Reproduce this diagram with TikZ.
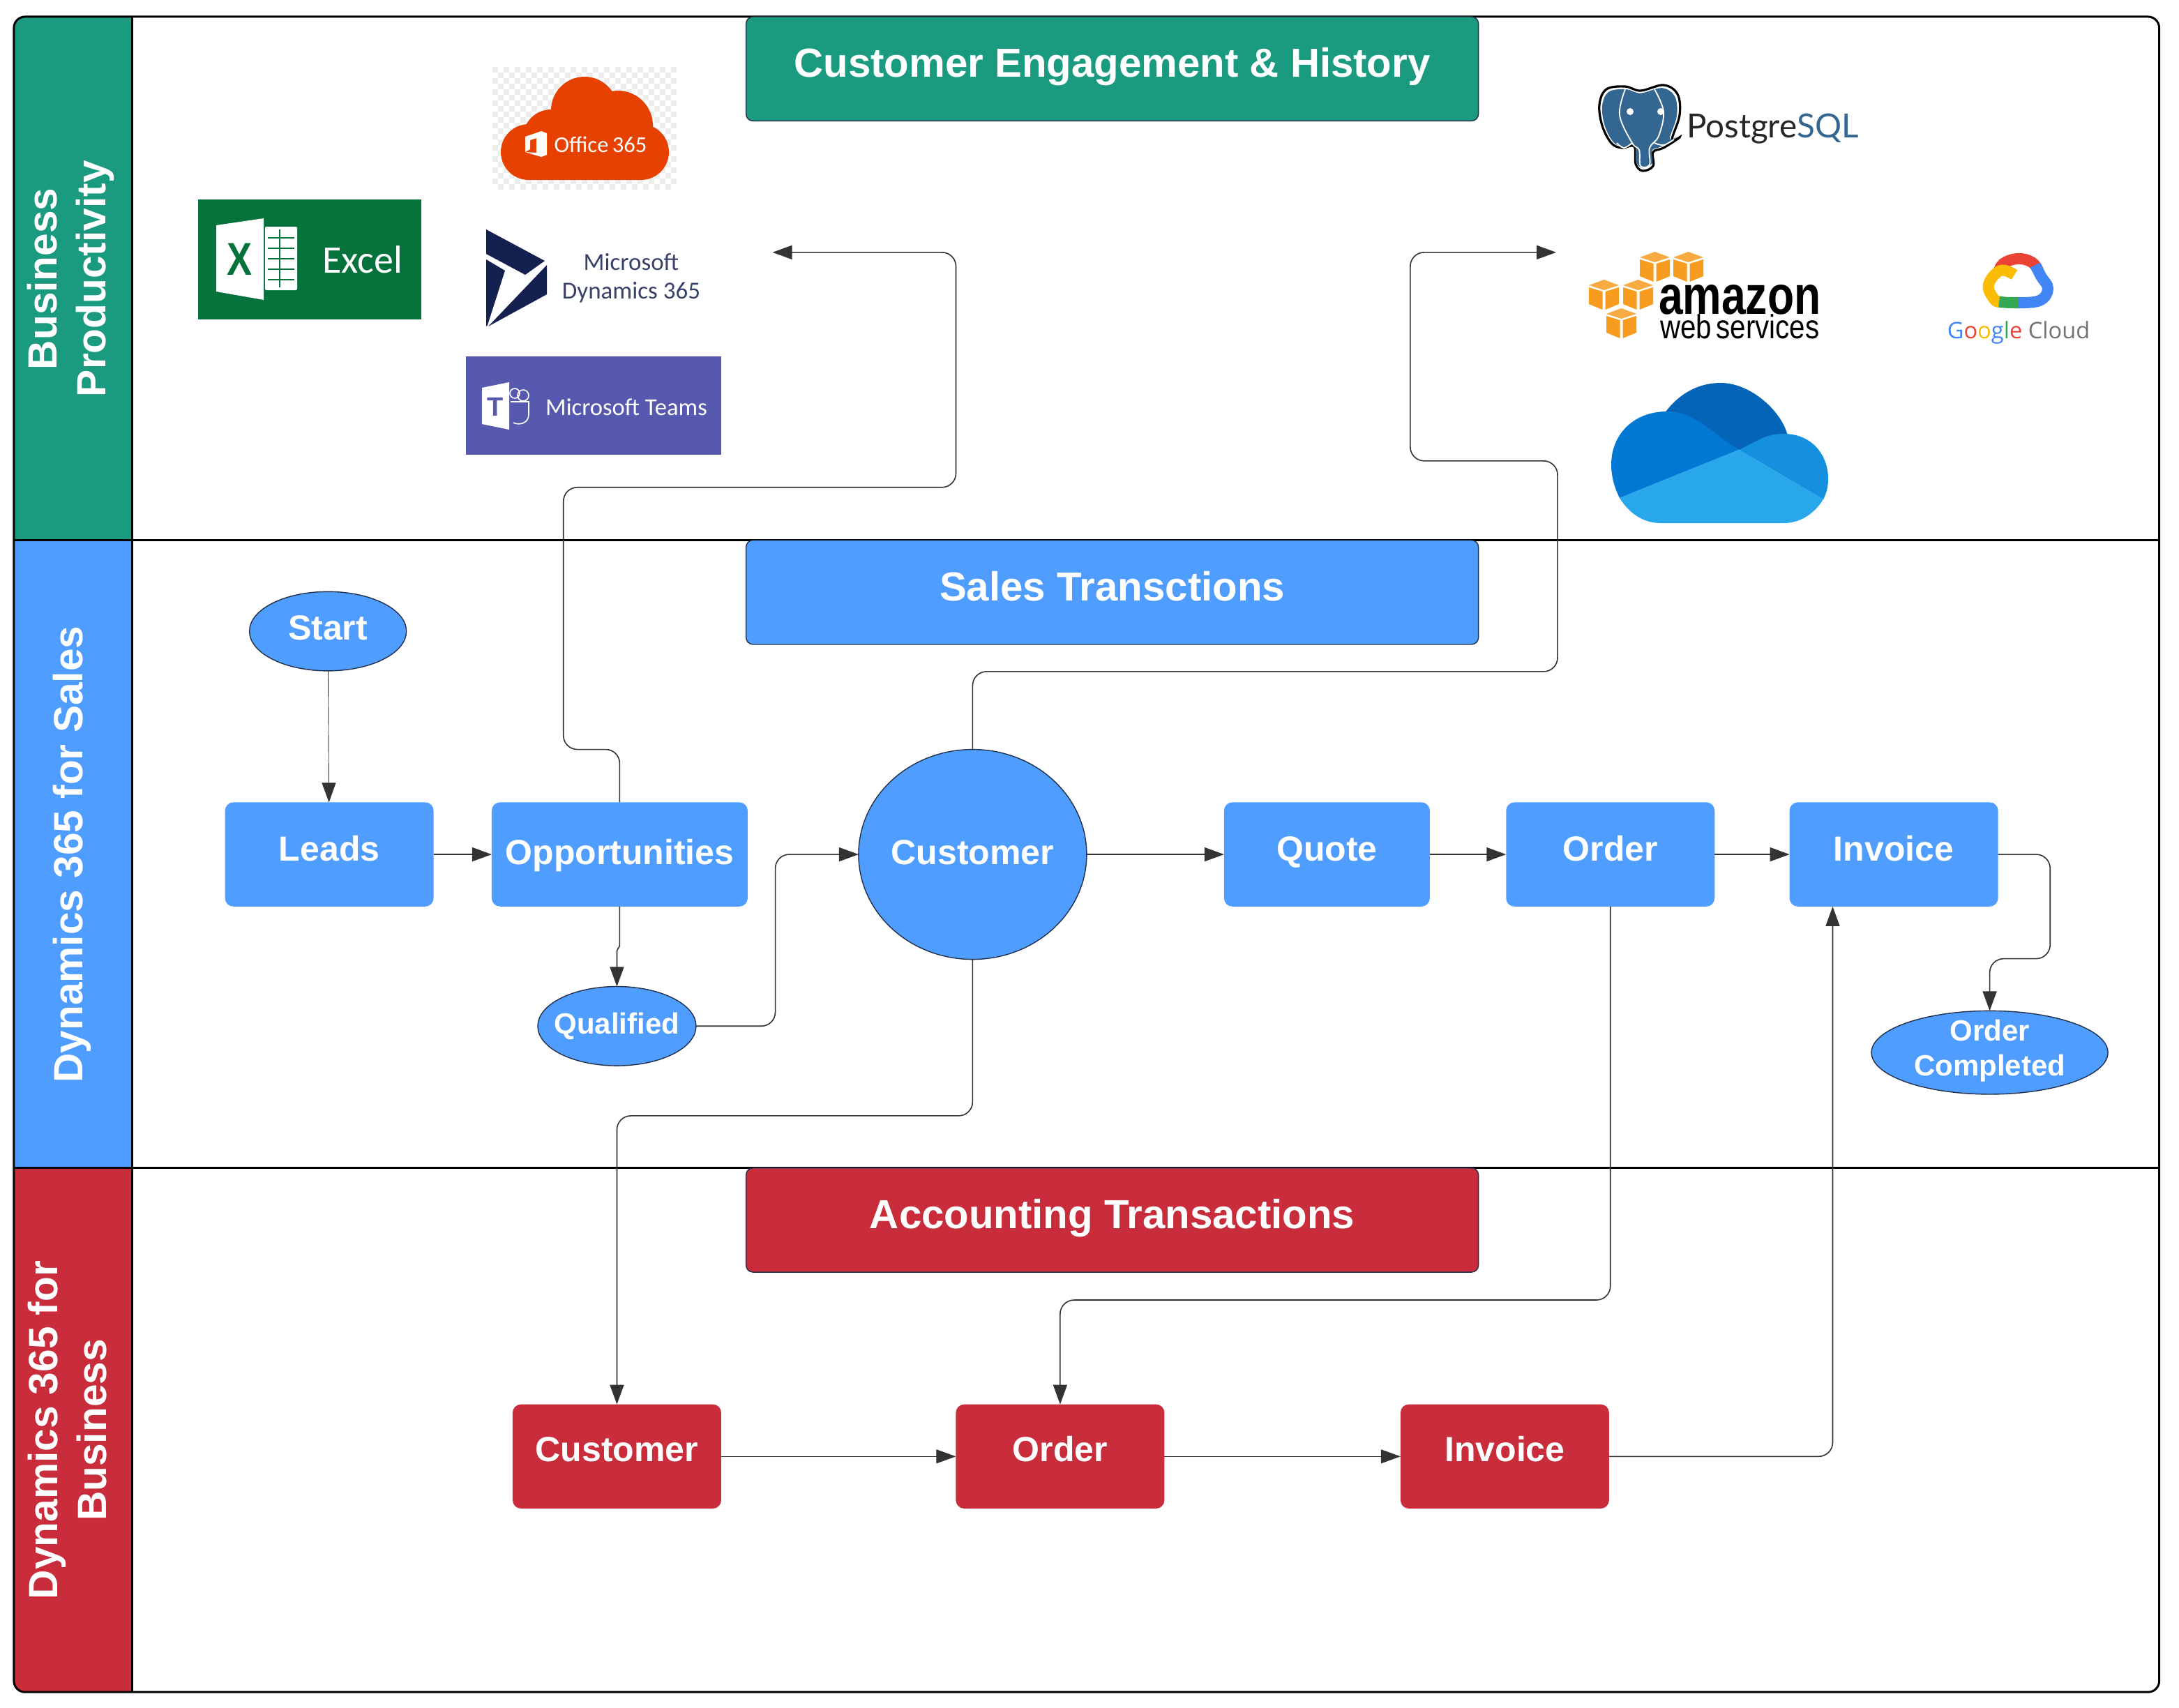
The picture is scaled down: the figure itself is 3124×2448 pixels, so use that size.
\documentclass[tikz,border=0pt]{standalone}
\usepackage{fontspec}
\usepackage{graphicx}
\setmainfont{Liberation Sans}
\newfontfamily\logofont{Carlito}
\newfontfamily\latofont{Lato}
\newfontfamily\gfont{Open Sans}
\usetikzlibrary{arrows.meta,shapes.geometric}
\definecolor{hgreen}{HTML}{1A9A7F}
\definecolor{hblue}{HTML}{4F9DFF}
\definecolor{hred}{HTML}{C92C3A}
\definecolor{linec}{HTML}{333333}
\definecolor{edgec}{HTML}{22304A}
\definecolor{xlgreen}{HTML}{04733B}
\definecolor{teamsc}{HTML}{5659AE}
\definecolor{dynnavy}{HTML}{14204F}
\definecolor{o365}{HTML}{E64100}
\definecolor{awsor}{HTML}{F79C1E}
\definecolor{pgblue}{HTML}{336791}
\definecolor{gblue}{HTML}{4285F4}
\definecolor{gred}{HTML}{EA4335}
\definecolor{gyel}{HTML}{FBBC05}
\definecolor{ggreen}{HTML}{34A853}
\definecolor{odtop}{HTML}{0364B8}
\definecolor{odleft}{HTML}{0078D4}
\definecolor{odright}{HTML}{1490DF}
\definecolor{odbottom}{HTML}{28A8EA}
\newcommand\awscube[2]{%
  \fill[awsor!85!white] (#1+21.5,#2) -- (#1+43,#2+8) -- (#1+21.5,#2+15) -- (#1,#2+8) -- cycle;
  \fill[awsor] (#1,#2+11) -- (#1+19.5,#2+17) -- (#1+19.5,#2+43) -- (#1,#2+35) -- cycle;
  \fill[awsor] (#1+43,#2+11) -- (#1+23.5,#2+17) -- (#1+23.5,#2+43) -- (#1+43,#2+35) -- cycle;}
\newcommand\elephantpath{plot[smooth cycle,tension=.6] coordinates {(2293,150) (2303,128) (2330,124) (2352,130) (2385,122) (2405,135) (2408,165) (2397,200) (2408,197) (2385,212) (2370,218) (2370,238) (2355,245) (2345,235) (2343,210) (2325,212) (2310,205) (2297,180)}}
\tikzset{
  x=0.5pt,y=-0.5pt,
  flowcoords/.style={x=0.498pt,y=-0.4984pt},
  boxbase/.style={rectangle,inner sep=0pt,outer sep=0pt,text=white,font=\bfseries\fontsize{25}{30}\selectfont,text height=18pt,text depth=9pt,align=center},
  bluebox/.style={boxbase,fill=hblue,rounded corners=6pt,minimum width=149.5pt,minimum height=74.7pt},
  redbox/.style={boxbase,fill=hred,rounded corners=6pt,minimum width=149.5pt,minimum height=74.7pt,text depth=11pt},
  oval/.style={ellipse,inner sep=-9pt,outer sep=0pt,fill=hblue,draw=edgec,line width=0.7pt,text=white,align=center,font=\bfseries\fontsize{25}{25}\selectfont},
  titlebox/.style={rectangle,inner sep=0pt,outer sep=0pt,draw=edgec,line width=0.7pt,rounded corners=5pt,minimum width=525pt,minimum height=74.7pt,text=white,font=\bfseries\fontsize{29.1}{34}\selectfont,text height=21pt,text depth=9pt},
  lanelabel/.style={rotate=90,inner sep=0pt,text=white,align=center,font=\bfseries\fontsize{29.3}{35}\selectfont},
  conn/.style={draw=linec,line width=0.8pt,rounded corners=10pt,-{Triangle[length=14pt,width=10pt]}},
  thinconn/.style={draw=linec,line width=0.45pt,-{Triangle[length=14pt,width=10pt]}},
  logotext/.style={inner sep=0pt,outer sep=0pt,font=\logofont},
}
\begin{document}
\begin{tikzpicture}
\useasboundingbox (0,0) rectangle (3124,2448);
\fill[white] (0,0) rectangle (3124,2448);
\begin{scope}[flowcoords]
% lanes
\begin{scope}
\clip[rounded corners=8pt] (20,24) rectangle (3108,2434);
\fill[hgreen] (20,24) rectangle (190,777);
\fill[hblue] (20,777) rectangle (190,1680);
\fill[hred] (20,1680) rectangle (190,2434);
\end{scope}
\draw[black,line width=1.5pt,rounded corners=8pt] (20,24) rectangle (3108,2434);
\draw[black,line width=1.5pt] (20,777) -- (3108,777) (20,1680) -- (3108,1680) (190,24) -- (190,2434);
\node[lanelabel] (lane1) at (102,401) {Business\\Productivity};
\node[lanelabel] (lane2) at (104,1229) {Dynamics 365 for Sales};
\node[lanelabel] (lane3) at (97,2057) {Dynamics 365 for\\Business};
% titles
\node[titlebox,fill=hgreen] (t1) at (1601,99) {Customer Engagement \& History};
\node[titlebox,fill=hblue] (t2) at (1601,852) {Sales Transctions};
\node[titlebox,fill=hred] (t3) at (1601,1755) {Accounting Transactions};
\end{scope}
% Excel logo
\fill[xlgreen] (284,286) rectangle (604,458);
\fill[white] (310,323) -- (378,313) -- (378,430) -- (310,418) -- cycle;
\fill[white,rounded corners=1pt] (380,325) rectangle (426,416);
\foreach \yy in {340,355,370,385,400} {\fill[xlgreen] (384,\yy) rectangle (422,\yy+2);}
\draw[xlgreen,line width=0.8pt] (401,329) -- (401,412);
\node[inner sep=0pt,text=xlgreen,font=\bfseries\fontsize{33}{33}\selectfont] (xlx) at (344,372) {\scalebox{0.82}[1]{X}};
\node[logotext,text=white,font=\logofont\fontsize{28}{28}\selectfont] (xltext) at (520,372) {Excel};
% Office 365 logo
\foreach \i in {0,...,32} {\foreach \j in {0,...,21} {
  \pgfmathparse{int(mod(\i+\j,2))}
  \ifnum\pgfmathresult=0 \fill[black!7] (706+\i*8,96+\j*8) rectangle ++(8,8); \fi }}
\fill[o365,rounded corners=20pt] (718,178) rectangle (959,258);
\fill[o365] (838,158) circle[radius=24pt];
\fill[o365] (886,180) circle[radius=25pt];
\fill[o365] (790,197) circle[radius=20pt];
\fill[white] (753,196) -- (776,188) -- (784,191) -- (784,222) -- (776,225) -- (753,218) -- (769,219) -- (769,198) -- (760,201) -- (760,214) -- (753,218) -- cycle;
\node[logotext,text=white,font=\logofont\fontsize{16.3}{18}\selectfont] (o365t) at (861,207) {Office\,365};
% Dynamics logo
\fill[dynnavy] (697,329) -- (781,374) -- (753,394) -- (697,364) -- cycle;
\fill[dynnavy] (697,372) -- (724,388) -- (699,466) -- (697,468) -- cycle;
\fill[dynnavy] (784,380) -- (784,422) -- (700,468) -- cycle;
\node[logotext,text=dynnavy!85,font=\logofont\fontsize{17.5}{18}\selectfont] (dyn1) at (905,376) {Microsoft};
\node[logotext,text=dynnavy!85,font=\logofont\fontsize{17.5}{18}\selectfont] (dyn2) at (905,419) {Dynamics 365};
% Teams logo
\fill[teamsc] (668,511) rectangle (1034,652);
\draw[white,line width=0.8pt] (738,564) circle[radius=3.5pt] (750,567) circle[radius=4pt];
\draw[white,line width=0.8pt] (732,576) -- (758,576) -- (758,594) .. controls (758,608) and (743,610) .. (736,606);
\fill[white] (691,556) -- (730,548) -- (730,616) -- (691,608) -- cycle;
\node[inner sep=0pt,text=teamsc,font=\bfseries\fontsize{19}{19}\selectfont] (teamst) at (710,583) {T};
\node[logotext,text=white,font=\logofont\fontsize{17.3}{18}\selectfont] (teams) at (898,584) {Microsoft Teams};
% PostgreSQL logo
\draw[black,line width=1.6pt,fill=white] \elephantpath;
\begin{scope}[shift={(2350,182)},scale=0.93,shift={(-2350,-182)}]
\fill[pgblue] \elephantpath;
\end{scope}
\draw[white,line width=0.9pt] plot[smooth,tension=.6] coordinates {(2330,128) (2322,165) (2340,205) (2350,215) (2352,238) (2365,236) (2365,212) (2378,195) (2385,160) (2372,128)};
\draw[white,line width=0.9pt] plot[smooth,tension=.6] coordinates {(2340,205) (2328,212) (2318,205)};
\draw[white,line width=0.9pt] plot[smooth,tension=.6] coordinates {(2372,205) (2385,208) (2400,200)};
\fill[white] (2337,160) circle[radius=2.5pt] (2381,160) circle[radius=2.5pt];
\node[inner sep=0pt,outer sep=0pt,anchor=west,font=\latofont\fontsize{23.8}{24}\selectfont] (pgt) at (2418,185) {\textcolor{black!85}{Postgre}\textcolor{pgblue}{SQL}};
% AWS logo
\awscube{2351}{361}
\awscube{2399}{361}
\awscube{2278}{401}
\awscube{2327}{401}
\awscube{2303}{442}
\node[inner sep=0pt,outer sep=0pt,anchor=west,font=\bfseries\fontsize{39}{39}\selectfont] (amz) at (2378,430) {\scalebox{0.80}[1]{amazon}};
\node[inner sep=0pt,outer sep=0pt,anchor=west,font=\fontsize{24}{24}\selectfont] (aws2) at (2380,468) {\scalebox{0.84}[1]{web\,services}};
% Google Cloud logo
\draw[gred,line width=8pt] plot[smooth,tension=.7] coordinates {(2865,392) (2872,378) (2893,371) (2913,376) (2922,388)};
\draw[gblue,line width=8pt] plot[smooth,tension=.7] coordinates {(2918,380) (2926,396) (2936,414) (2924,431) (2892,434)};
\draw[ggreen,line width=8pt] (2860,431) .. controls (2868,434) and (2880,434) .. (2894,434);
\draw[gyel,line width=8pt] plot[smooth,tension=.7] coordinates {(2888,394) (2868,388) (2851,408) (2858,428) (2866,433)};
\node[inner sep=0pt,font=\gfont\fontsize{16.3}{18}\selectfont] (gc) at (2894,477) {\textcolor{gblue}{G}\textcolor{gred}{o}\textcolor{gyel}{o}\textcolor{gblue}{g}\textcolor{ggreen}{l}\textcolor{gred}{e} \textcolor{black!55}{Cloud}};
% OneDrive logo
\fill[odtop] (2386,593) .. controls (2410,560) and (2440,549) .. (2467,549) .. controls (2510,549) and (2555,590) .. (2563,625) -- (2493,645) -- cycle;
\fill[odleft] (2390,590) .. controls (2430,590) and (2460,625) .. (2493,645) -- (2322,714) .. controls (2290,650) and (2325,590) .. (2390,590) -- cycle;
\fill[odright] (2493,645) .. controls (2515,635) and (2530,622) .. (2557,622) .. controls (2600,622) and (2621,655) .. (2621,686) .. controls (2621,700) and (2618,708) .. (2614,716) -- cycle;
\fill[odbottom] (2322,714) -- (2493,645) -- (2614,716) .. controls (2600,738) and (2580,750) .. (2557,750) -- (2381,750) .. controls (2355,750) and (2335,735) .. (2322,714) -- cycle;
\begin{scope}[flowcoords]
\coordinate (dynin) at (1112,363);
\coordinate (awsin) at (2240,363);
% flow nodes
\node[oval,minimum width=112.5pt,minimum height=56.8pt,text depth=5pt] (start) at (472,908) {Start};
\node[bluebox] (leads) at (474,1229) {Leads};
\node[bluebox,minimum width=183.5pt,text depth=4pt] (opp) at (892,1229) {Opportunities};
\node[oval,minimum width=163.5pt,minimum height=150.5pt,text depth=3.4pt] (cust) at (1400,1229) {Customer};
\node[bluebox,minimum width=147.5pt] (quote) at (1910,1229) {Quote};
\node[bluebox] (order) at (2318,1229) {Order};
\node[bluebox] (inv) at (2726,1229) {Invoice};
\node[oval,minimum width=113.5pt,minimum height=56.8pt,font=\bfseries\fontsize{21}{25}\selectfont] (qual) at (888,1476) {Qualified};
\node[oval,minimum width=169.5pt,minimum height=59.8pt,font=\bfseries\fontsize{21}{25}\selectfont,text depth=7pt] (done) at (2864,1514) {Order\\Completed};
\node[redbox] (rcust) at (888,2095) {Customer};
\node[redbox] (rorder) at (1526,2095) {Order};
\node[redbox] (rinv) at (2166,2095) {Invoice};
% connectors
\draw[thinconn] (start) -- (leads);
\draw[conn] (leads) -- (opp);
\draw[conn] (opp.north) -- (892,1078) -- (811,1078) -- (811,701) -- (1376,701) -- (1376,363) -- (dynin);
\draw[conn,rounded corners=1pt] (opp.south) -- (892,1362) -- (888,1366) -- (qual.north);
\draw[conn] (qual.east) -- (1116,1476) -- (1116,1229) -- (cust.west);
\draw[conn] (cust.north) -- (1400,966) -- (2242,966) -- (2242,663) -- (2030,663) -- (2030,363) -- (awsin);
\draw[conn] (cust.south) -- (1400,1605) -- (888,1605) -- (rcust.north);
\draw[conn] (cust.east) -- (quote.west);
\draw[conn] (quote) -- (order);
\draw[conn] (order) -- (inv);
\draw[conn] (inv.east) -- (2951,1229) -- (2951,1379) -- (2864,1379) -- (done.north);
\draw[conn] (order.south) -- (2318,1870) -- (1526,1870) -- (rorder.north);
\draw[thinconn] (rcust) -- (rorder);
\draw[thinconn] (rorder) -- (rinv);
\draw[conn] (rinv.east) -- (2638,2095) -- (2638,1304);
\end{scope}
\end{tikzpicture}
\end{document}
